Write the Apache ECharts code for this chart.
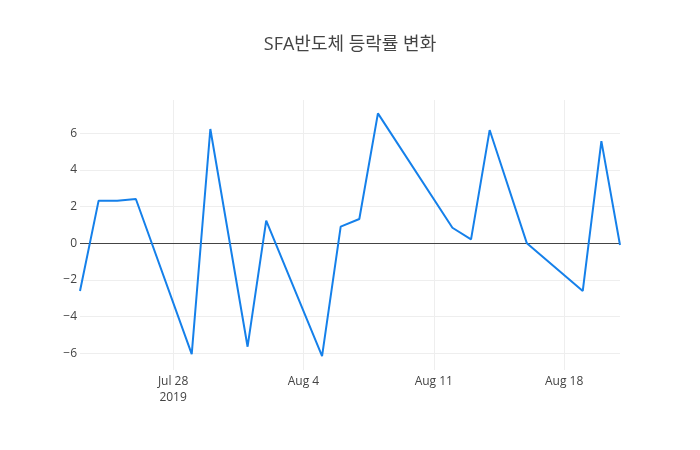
<!DOCTYPE html>
<html>
<head>
<meta charset="utf-8">
<title>SFA반도체 등락률 변화</title>
<script src="https://cdn.jsdelivr.net/npm/echarts@6/dist/echarts.min.js"></script>
<style>
	html, body { margin: 0; padding: 0; background: #fff; }
	#chart { width: 700px; height: 450px; }
</style>
</head>
<body>
<div id="chart"></div>
<script>
	"use strict";

	// trading days and daily change (%)
	var dates = ['2019-07-23', '2019-07-24', '2019-07-25', '2019-07-26', '2019-07-29', '2019-07-30',
		'2019-08-01', '2019-08-02', '2019-08-05', '2019-08-06', '2019-08-07', '2019-08-08',
		'2019-08-12', '2019-08-13', '2019-08-14', '2019-08-16', '2019-08-19', '2019-08-20', '2019-08-21'];
	var changes = [-2.6, 2.33, 2.33, 2.42, -6.04, 6.24,
		-5.64, 1.24, -6.15, 0.91, 1.33, 7.09,
		0.85, 0.22, 6.18, 0.0, -2.6, 5.58, -0.09];

	var xTicks = ['2019-07-28', '2019-08-04', '2019-08-11', '2019-08-18'];
	var yTicks = [-6, -4, -2, 0, 2, 4, 6];
	var months = ['Jan', 'Feb', 'Mar', 'Apr', 'May', 'Jun', 'Jul', 'Aug', 'Sep', 'Oct', 'Nov', 'Dec'];

	function ts(s) {
		var p = s.split('-');
		return Date.UTC(+p[0], +p[1] - 1, +p[2]);
	}

	var FONT = '"Open Sans", "Noto Sans CJK KR", sans-serif';
	var xTickValues = xTicks.map(ts);

	var chart = echarts.init(document.getElementById('chart'), null, { renderer: 'canvas' });
	chart.setOption({
		animation: false,
		backgroundColor: '#fff',
		textStyle: { fontFamily: FONT },
		title: {
			text: 'SFA반도체 등락률 변화',
			left: 'center',
			top: 31,
			textStyle: { fontFamily: FONT, fontSize: 18, fontWeight: 'normal', color: '#444' }
		},
		grid: { left: 80, right: 80, top: 100, bottom: 80, containLabel: false },
		xAxis: {
			// timestamps on a value axis so the ticks can sit on the Sundays
			type: 'value',
			min: ts('2019-07-23'),
			max: ts('2019-08-21'),
			axisLine: { show: false, onZero: false },
			axisTick: { show: false, customValues: xTickValues },
			splitLine: { show: true, lineStyle: { color: '#eee', width: 1 } },
			axisLabel: {
				customValues: xTickValues,
				color: '#444',
				fontSize: 12,
				fontFamily: FONT,
				lineHeight: 16,
				margin: 4,
				hideOverlap: false,
				formatter: function(v) {
					var d = new Date(v);
					var s = months[d.getUTCMonth()] + ' ' + d.getUTCDate();
					if (v === xTickValues[0]) s += '\n' + d.getUTCFullYear();
					return s;
				}
			}
		},
		yAxis: {
			type: 'value',
			min: -6.91,
			max: 7.82,
			axisLine: { show: false },
			axisTick: { show: false, customValues: yTicks },
			splitLine: { show: true, lineStyle: { color: '#eee', width: 1 } },
			axisLabel: {
				customValues: yTicks,
				color: '#444',
				fontSize: 12,
				fontFamily: FONT,
				margin: 3,
				formatter: function(v) {
					return v < 0 ? '\u2212' + Math.abs(v) : String(v);
				}
			}
		},
		series: [{
			type: 'line',
			data: dates.map(function(d, i) { return [ts(d), changes[i]]; }),
			showSymbol: false,
			symbol: 'none',
			lineStyle: { color: '#1580ea', width: 2 },
			z: 3,
			markLine: {
				silent: true,
				symbol: 'none',
				label: { show: false },
				lineStyle: { color: '#444', width: 1, type: 'solid' },
				data: [{ yAxis: 0 }],
				z: 2
			}
		}]
	});
</script>
</body>
</html>
